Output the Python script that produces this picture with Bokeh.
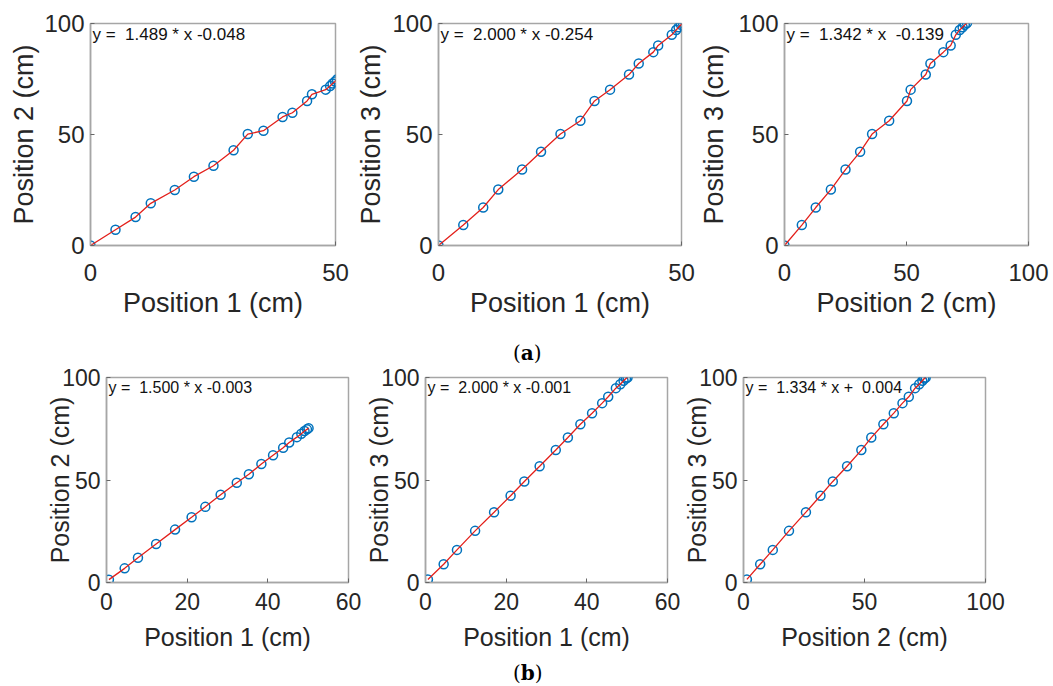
from bokeh.plotting import figure
from bokeh.models import Range1d, FixedTicker, Label, Div
from bokeh.layouts import column, row
from bokeh.embed import file_html
from bokeh.resources import INLINE

# ---- data (a) ----
pos1_a = [0, 5.1, 9.2, 12.3, 17.2, 21.1, 25.1, 29.2, 32.1, 35.3, 39.2, 41.2, 44.2, 45.2, 48.0, 48.9, 49.4, 49.9, 50.3]
pos2_a = [0, 7.1, 12.8, 19.0, 25.0, 31.0, 35.9, 42.9, 50.2, 51.7, 57.9, 59.8, 65.1, 68.1, 70.2, 71.8, 73.0, 73.9, 74.8]
pos3_a = [0, 9.2, 17.1, 25.2, 34.2, 42.2, 50.2, 56.2, 65.1, 70.2, 77.0, 82.0, 87.1, 90.1, 94.9, 97.1, 98.3, 99.4, 100.2]

# ---- data (b) ----
pos1_b = [0.6, 4.5, 7.8, 12.3, 17.0, 21.1, 24.5, 28.3, 32.3, 35.3, 38.4, 41.3, 43.8, 45.3, 47.2, 48.3, 49.1, 49.7, 50.1]
pos2_b = [1.4, 6.9, 12.1, 18.8, 25.8, 31.8, 36.9, 42.8, 48.7, 52.8, 57.8, 62.1, 65.7, 68.3, 70.9, 72.6, 73.9, 74.7, 75.3]
pos3_b = [1.5, 8.9, 15.9, 25.2, 34.3, 42.3, 49.3, 56.7, 64.6, 70.7, 77.2, 82.6, 87.5, 90.6, 94.8, 96.7, 98.4, 99.5, 100.0]

eq_a = ["y =  1.489 * x -0.048", "y =  2.000 * x -0.254", "y =  1.342 * x  -0.139"]
eq_b = ["y =  1.500 * x -0.003", "y =  2.000 * x -0.001", "y =  1.334 * x +  0.004"]

xlabels = ["Position 1 (cm)", "Position 1 (cm)", "Position 2 (cm)"]
ylabels = ["Position 2 (cm)", "Position 3 (cm)", "Position 3 (cm)"]

x_max_a = [50, 50, 100]
x_max_b = [60, 60, 100]
x_ticks_a = [[0, 50], [0, 50], [0, 50, 100]]
x_ticks_b = [[0, 20, 40, 60], [0, 20, 40, 60], [0, 50, 100]]
y_ticks = [0, 50, 100]
y_max = 100

BOX = "#A6A6A6"
TXT = "#262626"
FONT = "Liberation Sans"


def panel(x, y, xmax, xticks, xlabel, ylabel, eq, width, height, bl, br, bt, bb,
          tick_fs, lab_fs, ylab_so, xtick_so, xlab_so, eq_fs):
    p = figure(width=width, height=height, x_range=Range1d(0, xmax), y_range=Range1d(0, y_max),
               output_backend="svg", toolbar_location=None,
               min_border_left=bl, min_border_right=br, min_border_top=bt, min_border_bottom=bb)
    p.grid.visible = False
    p.outline_line_color = BOX
    p.outline_line_width = 1.5
    p.background_fill_color = "white"
    p.border_fill_color = "white"

    p.xaxis.ticker = FixedTicker(ticks=xticks, minor_ticks=[])
    p.yaxis.ticker = FixedTicker(ticks=y_ticks, minor_ticks=[])
    for ax in (p.xaxis, p.yaxis):
        ax.major_tick_in = 4
        ax.major_tick_out = 0
        ax.minor_tick_line_color = None
        ax.major_tick_line_color = "#666666"
        ax.axis_line_color = BOX
        ax.axis_line_width = 1.5
        ax.major_label_text_font = FONT
        ax.major_label_text_font_size = f"{tick_fs}px"
        ax.major_label_text_color = TXT
        ax.axis_label_text_font = FONT
        ax.axis_label_text_font_size = f"{lab_fs}px"
        ax.axis_label_text_font_style = "normal"
        ax.axis_label_text_color = TXT
    p.xaxis.axis_label = xlabel
    p.yaxis.axis_label = ylabel
    p.yaxis.major_label_standoff = 6
    p.yaxis.axis_label_standoff = ylab_so
    p.xaxis.major_label_standoff = xtick_so
    p.xaxis.axis_label_standoff = xlab_so

    p.scatter(x, y, marker="circle", size=9, fill_color=None, line_color="#0072BD", line_width=1.5)
    p.line(x, y, line_color="#E3201B", line_width=1.3)

    p.add_layout(Label(x=0, y=y_max, x_offset=2, y_offset=-1, text=eq.replace("  ", "\u00a0 "),
                       text_baseline="top", text_align="left", text_font=FONT,
                       text_font_size=f"{eq_fs}px", text_color="#111111"))
    return p


# top row (a)
fa1 = panel(pos1_a, pos2_a, x_max_a[0], x_ticks_a[0], xlabels[0], ylabels[0], eq_a[0],
            350, 330, 90, 15, 23, 85, 24, 27, 2, 18, 4, 17)
fa2 = panel(pos1_a, pos3_a, x_max_a[1], x_ticks_a[1], xlabels[1], ylabels[1], eq_a[1],
            345, 330, 88, 14, 23, 85, 24, 27, 3, 18, 4, 17)
fa3 = panel(pos2_a, pos3_a, x_max_a[2], x_ticks_a[2], xlabels[2], ylabels[2], eq_a[2],
            358, 330, 89, 25, 23, 85, 24, 27, 6, 18, 4, 17)

# bottom row (b)
fb1 = panel(pos1_b, pos2_b, x_max_b[0], x_ticks_b[0], xlabels[0], ylabels[0], eq_b[0],
            362, 297, 106, 14, 12, 80, 23, 25, -15, 10, 10, 16)
fb2 = panel(pos1_b, pos3_b, x_max_b[1], x_ticks_b[1], xlabels[1], ylabels[1], eq_b[1],
            318, 297, 63, 13, 12, 80, 23, 25, -15, 10, 10, 16)
fb3 = panel(pos2_b, pos3_b, x_max_b[2], x_ticks_b[2], xlabels[2], ylabels[2], eq_b[2],
            373, 297, 63, 68, 12, 80, 23, 25, -15, 10, 10, 16)

cap_style = ("font-family:'DejaVu Serif';font-size:20px;line-height:23px;"
             "color:#000;white-space:nowrap;margin:0;")
div_a = Div(text=f'<div style="padding:12px 0 0 513px;{cap_style}">(<b>a</b>)</div>',
            width=1053, height=35, margin=0)
div_b = Div(text=f'<div style="padding:0 0 0 513px;{cap_style}">(<b>b</b>)</div>',
            width=1053, height=23, margin=0)

layout = column(row(fa1, fa2, fa3), div_a, row(fb1, fb2, fb3), div_b)

open("out.html", "w").write(file_html(layout, INLINE))
